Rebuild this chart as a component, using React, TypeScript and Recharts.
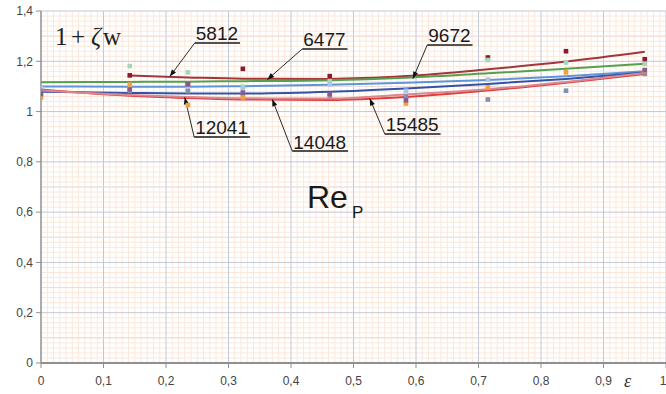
import React from "react";
import {
  ComposedChart,
  Line,
  Scatter,
  XAxis,
  YAxis,
  ReferenceLine,
} from "recharts";

/* ---------------- Data ---------------- */

// relative position along the channel (ε)
const EPS = [0, 0.142, 0.235, 0.323, 0.462, 0.584, 0.715, 0.84, 0.966];

// Reynolds numbers of the six runs
const RE_VALUES = [5812, 6477, 9672, 12041, 14048, 15485];

// fitted trend curves (1 + ζw) at EPS; run 5812 starts at the second station
const FIT_5812 = [1.143, 1.136, 1.131, 1.130, 1.141, 1.168, 1.199, 1.238];
const FIT_6477 = [1.117, 1.118, 1.119, 1.121, 1.125, 1.135, 1.152, 1.170, 1.190];
const FIT_9672 = [1.100, 1.099, 1.099, 1.101, 1.107, 1.115, 1.126, 1.140, 1.160];
const FIT_12041 = [1.079, 1.074, 1.072, 1.072, 1.079, 1.092, 1.110, 1.130, 1.155];
const FIT_14048 = [1.088, 1.063, 1.054, 1.048, 1.046, 1.058, 1.084, 1.115, 1.150];
const FIT_15485 = [1.084, 1.066, 1.058, 1.053, 1.052, 1.068, 1.089, 1.118, 1.153];

// measured points: [ε, 1 + ζw]
const PTS_5812 = [[0.142, 1.144], [0.235, 1.108], [0.323, 1.17], [0.462, 1.141], [0.715, 1.215], [0.84, 1.24], [0.966, 1.208]];
const PTS_6477 = [[0.142, 1.181], [0.235, 1.156], [0.323, 1.099], [0.462, 1.121], [0.715, 1.205], [0.84, 1.195], [0.966, 1.19]];
const PTS_9672 = [[0, 1.092], [0.142, 1.098], [0.235, 1.092], [0.323, 1.088], [0.462, 1.108], [0.584, 1.083], [0.715, 1.127], [0.966, 1.16]];
const PTS_12041 = [[0, 1.082], [0.142, 1.082], [0.235, 1.081], [0.323, 1.069], [0.462, 1.064], [0.584, 1.059], [0.715, 1.048], [0.84, 1.083], [0.966, 1.15]];
const PTS_14048 = [[0, 1.055], [0.142, 1.108], [0.235, 1.026], [0.323, 1.056], [0.584, 1.032], [0.715, 1.096], [0.84, 1.156], [0.966, 1.162]];
const PTS_15485 = [[0, 1.07], [0.142, 1.088], [0.235, 1.108], [0.323, 1.075], [0.462, 1.07], [0.584, 1.045], [0.966, 1.165]];

const X_TICKS = [0, 0.1, 0.2, 0.3, 0.4, 0.5, 0.6, 0.7, 0.8, 0.9, 1];
const Y_TICKS = [0, 0.2, 0.4, 0.6, 0.8, 1, 1.2, 1.4];

/* ---------------- Styling ---------------- */

const LINE_COLORS = ["#a3363b", "#55a04e", "#5f95d8", "#3452a6", "#e23c3c", "#d98890"];
const DOT_COLORS = ["#8b1a2a", "#a6d6bf", "#a9c5e8", "#7f8fb8", "#f0a040", "#8a5a8c"];

const fits = [FIT_5812, FIT_6477, FIT_9672, FIT_12041, FIT_14048, FIT_15485];
const points = [PTS_5812, PTS_6477, PTS_9672, PTS_12041, PTS_14048, PTS_15485];

const curveData = fits.map((fit) => {
  const xs = EPS.slice(EPS.length - fit.length);
  return fit.map((y, i) => ({ x: xs[i], y }));
});
const dotData = points.map((pts) => pts.map(([x, y]) => ({ x, y })));

// callouts: arrow tip on the curve, label anchor (left end of underline)
const CALLOUTS = [
  { re: 0, tip: [0.206, 1.139], at: [0.246, 1.273] },
  { re: 1, tip: [0.362, 1.127], at: [0.418, 1.249] },
  { re: 2, tip: [0.595, 1.131], at: [0.618, 1.265] },
  { re: 3, tip: [0.23, 1.057], at: [0.245, 0.899] },
  { re: 4, tip: [0.37, 1.049], at: [0.402, 0.843] },
  { re: 5, tip: [0.526, 1.052], at: [0.55, 0.911] },
];

// fine grid: 0.01 in ε, 0.02 in the ordinate
const minorX = Array.from({ length: 101 }, (_, i) => i / 100).filter((_, i) => i % 10 !== 0);
const minorY = Array.from({ length: 71 }, (_, i) => (i * 2) / 100).filter((_, i) => i % 10 !== 0);
const majorX = X_TICKS.slice(1);
const majorY = Array.from({ length: 14 }, (_, i) => (i + 1) / 10);

const fmt = (v: number) => String(v).replace(".", ",");

const LABEL_FONT = 19;

const calloutShape = (text: string) => (props: any) => {
  const { x1, y1, x2, y2 } = props;
  const dx = x1 - x2;
  const dy = y1 - y2;
  const len = Math.hypot(dx, dy) || 1;
  const ux = dx / len;
  const uy = dy / len;
  const hl = 7;
  const hw = 2.6;
  const bx = x1 - ux * hl;
  const by = y1 - uy * hl;
  const head = `${x1},${y1} ${bx - uy * hw},${by + ux * hw} ${bx + uy * hw},${by - ux * hw}`;
  const w = text.length * 0.556 * LABEL_FONT + 3;
  return (
    <g>
      <line x1={x1} y1={y1} x2={x2} y2={y2} stroke="#2a2a2a" strokeWidth={1} />
      <polygon points={head} fill="#111" />
      <line x1={x2} y1={y2} x2={x2 + w} y2={y2} stroke="#1a1a1a" strokeWidth={1.6} />
      <text
        x={x2 + 1}
        y={y2 - 2.5}
        fontSize={LABEL_FONT}
        fontFamily="Liberation Sans, Arial, sans-serif"
        fill="#1a1a1a"
      >
        {text}
      </text>
    </g>
  );
};

const squareDot = (color: string) => (props: any) => {
  const { cx, cy } = props;
  if (cx == null || cy == null) return <g />;
  return <rect x={cx - 2.3} y={cy - 2.3} width={4.6} height={4.6} fill={color} />;
};

export default function App() {
  return (
    <div
      style={{
        position: "absolute",
        left: 0,
        top: 0,
        width: 666,
        height: 394,
        background: "#fff",
        overflow: "hidden",
      }}
    >
      <ComposedChart
        width={666}
        height={394}
        margin={{ top: 11, right: 0, left: 0, bottom: 0 }}
      >
        <XAxis
          type="number"
          dataKey="x"
          domain={[0, 1]}
          ticks={X_TICKS}
          tickFormatter={fmt}
          allowDataOverflow
          height={31}
          tickSize={5}
          tickMargin={8}
          axisLine={{ stroke: "#8f8f8f", strokeWidth: 2 }}
          tickLine={{ stroke: "#8f8f8f" }}
          tick={{ fill: "#444", fontSize: 12, fontFamily: "Liberation Sans, Arial, sans-serif" }}
        />
        <YAxis
          type="number"
          dataKey="y"
          domain={[0, 1.4]}
          ticks={Y_TICKS}
          tickFormatter={fmt}
          allowDataOverflow
          width={41}
          tickSize={5}
          tickMargin={3}
          axisLine={{ stroke: "#8f8f8f", strokeWidth: 1.5 }}
          tickLine={{ stroke: "#8f8f8f" }}
          tick={{ fill: "#444", fontSize: 12, fontFamily: "Liberation Sans, Arial, sans-serif" }}
        />

        {/* graph-paper grid */}
        {minorX.map((v) => (
          <ReferenceLine key={`mx${v}`} x={v} stroke="#fbe8da" strokeWidth={1} />
        ))}
        {minorY.map((v) => (
          <ReferenceLine key={`my${v}`} y={v} stroke="#fbe8da" strokeWidth={1} />
        ))}
        {majorX.map((v) => (
          <ReferenceLine key={`Mx${v}`} x={v} stroke="#c4c8d4" strokeWidth={1} />
        ))}
        {majorY.map((v, i) => (
          <ReferenceLine
            key={`My${v}`}
            y={v}
            stroke={i % 2 === 1 ? "#c4c8d4" : "#ebdcd6"}
            strokeWidth={1}
          />
        ))}

        {/* measured points */}
        {dotData.map((d, i) => (
          <Scatter
            key={`s${i}`}
            data={d}
            dataKey="y"
            shape={squareDot(DOT_COLORS[i])}
            isAnimationActive={false}
          />
        ))}

        {/* trend curves */}
        {curveData.map((d, i) => (
          <Line
            key={`l${i}`}
            data={d}
            dataKey="y"
            type="monotone"
            stroke={LINE_COLORS[i]}
            strokeWidth={2}
            dot={false}
            activeDot={false}
            isAnimationActive={false}
          />
        ))}

        {/* Re callouts */}
        {CALLOUTS.map((c) => (
          <ReferenceLine
            key={`c${c.re}`}
            segment={[
              { x: c.tip[0], y: c.tip[1] },
              { x: c.at[0], y: c.at[1] },
            ]}
            shape={calloutShape(String(RE_VALUES[c.re]))}
          />
        ))}
      </ComposedChart>

      <svg
        width={666}
        height={394}
        style={{ position: "absolute", left: 0, top: 0, pointerEvents: "none" }}
      >
        <text x={55} y={45} fontSize={25} fontFamily="Liberation Serif, serif" fill="#222">
          1
          <tspan x={71}>+</tspan>
          <tspan x={91} fontStyle="italic">ζ</tspan>
          <tspan x={103}>w</tspan>
        </text>
        <text x={307} y={208} fontSize={32} fontFamily="Liberation Sans, Arial, sans-serif" fill="#1a1a1a">
          Re
          <tspan x={352} y={218} fontSize={17}>P</tspan>
        </text>
        <text x={624} y={387} fontSize={18} fontStyle="italic" fontFamily="Liberation Serif, serif" fill="#333">
          ε
        </text>
      </svg>
    </div>
  );
}
